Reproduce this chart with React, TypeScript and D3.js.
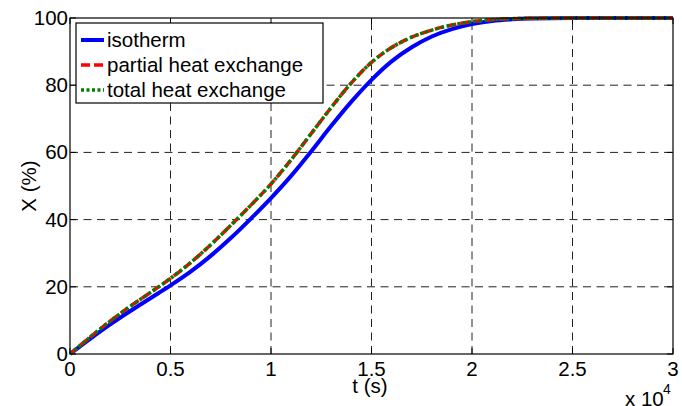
import React from 'react';
import * as d3 from 'd3';

// time in seconds
const timeS = [0, 1000, 2000, 3000, 4000, 5000, 6000, 7000, 8000, 9000, 10000, 11000, 12000, 13000, 14000, 15000, 16000, 17000, 18000, 19000, 20000, 21000, 22000, 23000, 25000, 30000];
const isotherm = [0, 4.5, 8.8, 12.8, 16.6, 20.4, 24.5, 29.2, 34.5, 40.3, 46.4, 53, 60.3, 67.9, 75.1, 81.6, 87.1, 91.3, 94.5, 96.7, 98.2, 99.1, 99.6, 99.85, 100, 100];
const partialHeat = [0, 5, 9.8, 14.2, 18.3, 22.5, 27.2, 32.5, 38.3, 44.3, 50.6, 57.8, 65.6, 73.4, 80.7, 86.8, 91.2, 94.3, 96.4, 97.9, 98.9, 99.5, 99.8, 99.92, 100, 100];
const totalHeat = [0, 5, 9.8, 14.2, 18.3, 22.5, 27.2, 32.5, 38.3, 44.3, 50.6, 57.8, 65.6, 73.4, 80.7, 86.8, 91.2, 94.3, 96.4, 97.9, 98.9, 99.5, 99.8, 99.92, 100, 100];

const xTicks = [0, 5000, 10000, 15000, 20000, 25000, 30000];
const xTickLabels = ['0', '0.5', '1', '1.5', '2', '2.5', '3'];
const yTicks = [0, 20, 40, 60, 80, 100];

const series = [
  { name: 'isotherm', values: isotherm, color: '#0000ff', width: 4, dash: null },
  { name: 'partial heat exchange', values: partialHeat, color: '#ff0000', width: 3.5, dash: '9,4' },
  { name: 'total heat exchange', values: totalHeat, color: '#008000', width: 3.5, dash: '3,2.5' },
];

const W = 682, H = 406;
const m = { left: 70, top: 18, right: 673, bottom: 354 };
const font = 'Liberation Sans, Arial, Helvetica, sans-serif';
const fs = 20.5;

export default function App() {
  const x = d3.scaleLinear().domain([0, 30000]).range([m.left, m.right]);
  const y = d3.scaleLinear().domain([0, 100]).range([m.bottom, m.top]);
  const line = d3.line<number>()
    .x((_, i) => x(timeS[i]))
    .y(d => y(d))
    .curve(d3.curveMonotoneX);

  return (
    <svg width={W} height={H} style={{ position: 'absolute', left: 0, top: 0, background: '#fff' }} fontFamily={font}>
      {/* grid */}
      {xTicks.slice(1, -1).map(t => (
        <line key={'gx' + t} x1={x(t)} x2={x(t)} y1={m.bottom} y2={m.top} stroke="#222" strokeWidth={1} strokeDasharray="8,5.5" />
      ))}
      {yTicks.slice(1, -1).map(v => (
        <line key={'gy' + v} x1={m.left} x2={m.right} y1={y(v)} y2={y(v)} stroke="#222" strokeWidth={1} strokeDasharray="8,5.5" />
      ))}
      {/* ticks */}
      {xTicks.map(t => (
        <g key={'tx' + t}>
          <line x1={x(t)} x2={x(t)} y1={m.bottom} y2={m.bottom - 6} stroke="#000" />
          <line x1={x(t)} x2={x(t)} y1={m.top} y2={m.top + 6} stroke="#000" />
        </g>
      ))}
      {yTicks.map(v => (
        <g key={'ty' + v}>
          <line x1={m.left} x2={m.left + 6} y1={y(v)} y2={y(v)} stroke="#000" />
          <line x1={m.right} x2={m.right - 6} y1={y(v)} y2={y(v)} stroke="#000" />
        </g>
      ))}
      {/* curves */}
      {series.map(s => (
        <path key={s.name} d={line(s.values) || ''} fill="none" stroke={s.color} strokeWidth={s.width}
          strokeDasharray={s.dash || undefined} />
      ))}
      {/* box */}
      <rect x={m.left} y={m.top} width={m.right - m.left} height={m.bottom - m.top} fill="none" stroke="#000" strokeWidth={1.2} />
      {/* tick labels */}
      {xTicks.map((t, i) => (
        <text key={'lx' + t} x={x(t)} y={376} textAnchor="middle" fontSize={fs}>{xTickLabels[i]}</text>
      ))}
      {yTicks.map(v => (
        <text key={'ly' + v} x={m.left - 2} y={y(v) + 7} textAnchor="end" fontSize={fs}>{v}</text>
      ))}
      {/* axis labels */}
      <text x={370} y={393} textAnchor="middle" fontSize={fs}>t (s)</text>
      <text transform={`translate(36,186) rotate(-90)`} textAnchor="middle" fontSize={fs}>X (%)</text>
      <text x={625} y={406} fontSize={fs}>x 10</text>
      <text x={663} y={394} fontSize={14}>4</text>
      {/* legend */}
      <rect x={76} y={23} width={247} height={80} fill="#fff" stroke="#000" strokeWidth={1.2} />
      {series.map((s, i) => (
        <g key={'lg' + s.name}>
          <line x1={81} x2={104} y1={40 + i * 25} y2={40 + i * 25} stroke={s.color} strokeWidth={s.width}
            strokeDasharray={s.dash || undefined} />
          <text x={107} y={47 + i * 25} fontSize={fs}>{s.name}</text>
        </g>
      ))}
    </svg>
  );
}
